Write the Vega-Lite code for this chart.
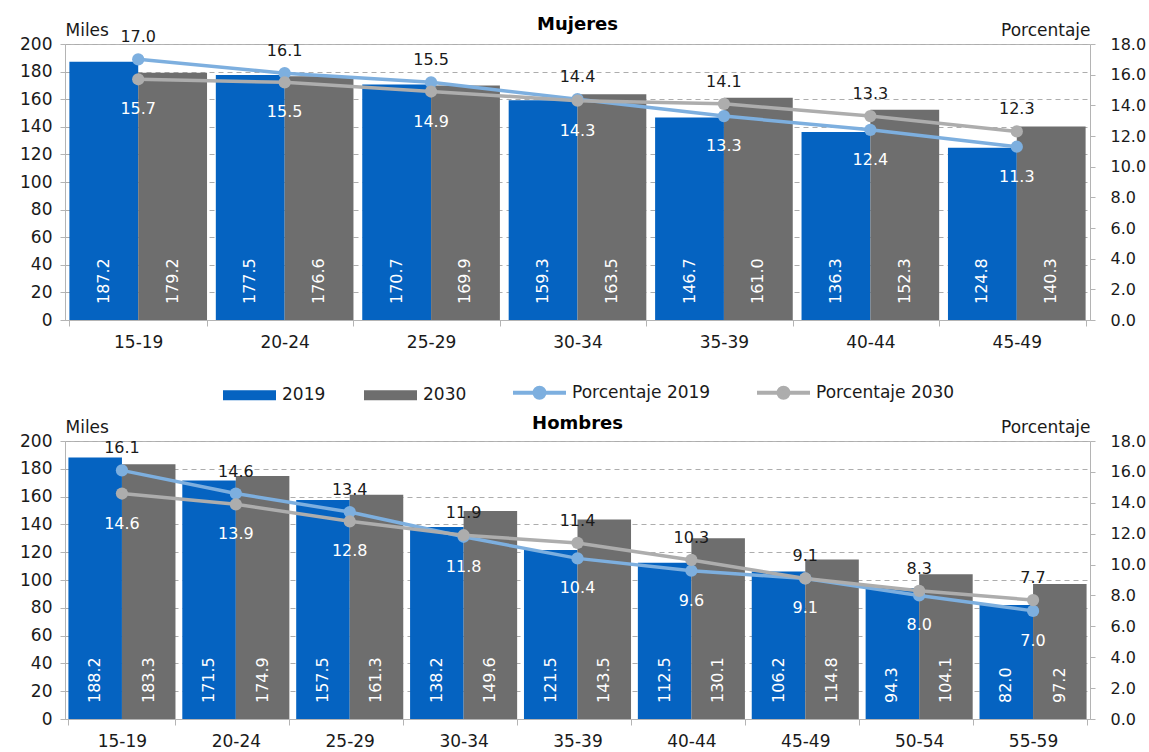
{
  "$schema": "https://vega.github.io/schema/vega-lite/v6.json",
  "background": "white",
  "padding": {"left": 19, "top": 15, "right": 0, "bottom": 0},
  "config": {
    "font": "DejaVu Sans",
    "view": {"stroke": "#B4B4B4", "strokeWidth": 1},
    "axis": {"labelFontSize": 17, "labelColor": "#1a1a1a", "titleFontSize": 17, "titleFontWeight": "normal", "titleColor": "#1a1a1a", "domainColor": "#B4B4B4", "tickColor": "#B4B4B4", "gridColor": "#ADADAD", "gridDash": [5, 4]},
    "title": {"fontSize": 18, "fontWeight": "bold", "color": "#000000"}
  },
  "datasets": {
    "barras": [
      {"sexo": "Mujeres", "grupo": "15-19", "serie": "2019", "valor": 187.2},
      {"sexo": "Mujeres", "grupo": "15-19", "serie": "2030", "valor": 179.2},
      {"sexo": "Mujeres", "grupo": "20-24", "serie": "2019", "valor": 177.5},
      {"sexo": "Mujeres", "grupo": "20-24", "serie": "2030", "valor": 176.6},
      {"sexo": "Mujeres", "grupo": "25-29", "serie": "2019", "valor": 170.7},
      {"sexo": "Mujeres", "grupo": "25-29", "serie": "2030", "valor": 169.9},
      {"sexo": "Mujeres", "grupo": "30-34", "serie": "2019", "valor": 159.3},
      {"sexo": "Mujeres", "grupo": "30-34", "serie": "2030", "valor": 163.5},
      {"sexo": "Mujeres", "grupo": "35-39", "serie": "2019", "valor": 146.7},
      {"sexo": "Mujeres", "grupo": "35-39", "serie": "2030", "valor": 161.0},
      {"sexo": "Mujeres", "grupo": "40-44", "serie": "2019", "valor": 136.3},
      {"sexo": "Mujeres", "grupo": "40-44", "serie": "2030", "valor": 152.3},
      {"sexo": "Mujeres", "grupo": "45-49", "serie": "2019", "valor": 124.8},
      {"sexo": "Mujeres", "grupo": "45-49", "serie": "2030", "valor": 140.3},
      {"sexo": "Hombres", "grupo": "15-19", "serie": "2019", "valor": 188.2},
      {"sexo": "Hombres", "grupo": "15-19", "serie": "2030", "valor": 183.3},
      {"sexo": "Hombres", "grupo": "20-24", "serie": "2019", "valor": 171.5},
      {"sexo": "Hombres", "grupo": "20-24", "serie": "2030", "valor": 174.9},
      {"sexo": "Hombres", "grupo": "25-29", "serie": "2019", "valor": 157.5},
      {"sexo": "Hombres", "grupo": "25-29", "serie": "2030", "valor": 161.3},
      {"sexo": "Hombres", "grupo": "30-34", "serie": "2019", "valor": 138.2},
      {"sexo": "Hombres", "grupo": "30-34", "serie": "2030", "valor": 149.6},
      {"sexo": "Hombres", "grupo": "35-39", "serie": "2019", "valor": 121.5},
      {"sexo": "Hombres", "grupo": "35-39", "serie": "2030", "valor": 143.5},
      {"sexo": "Hombres", "grupo": "40-44", "serie": "2019", "valor": 112.5},
      {"sexo": "Hombres", "grupo": "40-44", "serie": "2030", "valor": 130.1},
      {"sexo": "Hombres", "grupo": "45-49", "serie": "2019", "valor": 106.2},
      {"sexo": "Hombres", "grupo": "45-49", "serie": "2030", "valor": 114.8},
      {"sexo": "Hombres", "grupo": "50-54", "serie": "2019", "valor": 94.3},
      {"sexo": "Hombres", "grupo": "50-54", "serie": "2030", "valor": 104.1},
      {"sexo": "Hombres", "grupo": "55-59", "serie": "2019", "valor": 82.0},
      {"sexo": "Hombres", "grupo": "55-59", "serie": "2030", "valor": 97.2}
    ],
    "pct": [
      {"sexo": "Mujeres", "grupo": "15-19", "serie": "Porcentaje 2019", "valor": 17.0},
      {"sexo": "Mujeres", "grupo": "15-19", "serie": "Porcentaje 2030", "valor": 15.7},
      {"sexo": "Mujeres", "grupo": "20-24", "serie": "Porcentaje 2019", "valor": 16.1},
      {"sexo": "Mujeres", "grupo": "20-24", "serie": "Porcentaje 2030", "valor": 15.5},
      {"sexo": "Mujeres", "grupo": "25-29", "serie": "Porcentaje 2019", "valor": 15.5},
      {"sexo": "Mujeres", "grupo": "25-29", "serie": "Porcentaje 2030", "valor": 14.9},
      {"sexo": "Mujeres", "grupo": "30-34", "serie": "Porcentaje 2019", "valor": 14.4},
      {"sexo": "Mujeres", "grupo": "30-34", "serie": "Porcentaje 2030", "valor": 14.3},
      {"sexo": "Mujeres", "grupo": "35-39", "serie": "Porcentaje 2019", "valor": 13.3},
      {"sexo": "Mujeres", "grupo": "35-39", "serie": "Porcentaje 2030", "valor": 14.1},
      {"sexo": "Mujeres", "grupo": "40-44", "serie": "Porcentaje 2019", "valor": 12.4},
      {"sexo": "Mujeres", "grupo": "40-44", "serie": "Porcentaje 2030", "valor": 13.3},
      {"sexo": "Mujeres", "grupo": "45-49", "serie": "Porcentaje 2019", "valor": 11.3},
      {"sexo": "Mujeres", "grupo": "45-49", "serie": "Porcentaje 2030", "valor": 12.3},
      {"sexo": "Hombres", "grupo": "15-19", "serie": "Porcentaje 2019", "valor": 16.1},
      {"sexo": "Hombres", "grupo": "15-19", "serie": "Porcentaje 2030", "valor": 14.6},
      {"sexo": "Hombres", "grupo": "20-24", "serie": "Porcentaje 2019", "valor": 14.6},
      {"sexo": "Hombres", "grupo": "20-24", "serie": "Porcentaje 2030", "valor": 13.9},
      {"sexo": "Hombres", "grupo": "25-29", "serie": "Porcentaje 2019", "valor": 13.4},
      {"sexo": "Hombres", "grupo": "25-29", "serie": "Porcentaje 2030", "valor": 12.8},
      {"sexo": "Hombres", "grupo": "30-34", "serie": "Porcentaje 2019", "valor": 11.8},
      {"sexo": "Hombres", "grupo": "30-34", "serie": "Porcentaje 2030", "valor": 11.9},
      {"sexo": "Hombres", "grupo": "35-39", "serie": "Porcentaje 2019", "valor": 10.4},
      {"sexo": "Hombres", "grupo": "35-39", "serie": "Porcentaje 2030", "valor": 11.4},
      {"sexo": "Hombres", "grupo": "40-44", "serie": "Porcentaje 2019", "valor": 9.6},
      {"sexo": "Hombres", "grupo": "40-44", "serie": "Porcentaje 2030", "valor": 10.3},
      {"sexo": "Hombres", "grupo": "45-49", "serie": "Porcentaje 2019", "valor": 9.1},
      {"sexo": "Hombres", "grupo": "45-49", "serie": "Porcentaje 2030", "valor": 9.1},
      {"sexo": "Hombres", "grupo": "50-54", "serie": "Porcentaje 2019", "valor": 8.0},
      {"sexo": "Hombres", "grupo": "50-54", "serie": "Porcentaje 2030", "valor": 8.3},
      {"sexo": "Hombres", "grupo": "55-59", "serie": "Porcentaje 2019", "valor": 7.0},
      {"sexo": "Hombres", "grupo": "55-59", "serie": "Porcentaje 2030", "valor": 7.7}
    ]
  },
  "spacing": 63,
  "resolve": {"scale": {"xOffset": "independent"}},
  "vconcat": [
    {
      "width": 1025,
      "height": 276,
      "title": {"text": "Mujeres", "offset": -22, "baseline": "middle", "anchor": "middle", "frame": "group"},
      "encoding": {
        "x": {"field": "grupo", "type": "nominal", "sort": null, "scale": {"paddingInner": 0.06, "paddingOuter": 0.03},
              "axis": {"title": null, "labelAngle": 0, "tickBand": "extent", "tickSize": 6, "labelPadding": 8, "grid": false}}
      },
      "layer": [
        {
          "data": {"name": "barras"},
          "transform": [{"filter": "datum.sexo === 'Mujeres'"}],
          "encoding": {
            "xOffset": {"field": "serie", "type": "nominal", "sort": ["2019", "2030"]},
            "y": {"field": "valor", "type": "quantitative", "scale": {"domain": [0, 200]},
                  "axis": {"title": "Miles", "titleAngle": 0, "titleAlign": "left", "titleX": 0, "titleY": -14, "titleBaseline": "middle",
                           "values": [0, 20, 40, 60, 80, 100, 120, 140, 160, 180, 200], "grid": true, "tickSize": 5, "labelPadding": 8, "domain": false}}
          },
          "layer": [
            {
              "mark": {"type": "bar"},
              "encoding": {
                "color": {"field": "serie", "type": "nominal",
                  "scale": {"domain": ["2019", "2030", "Porcentaje 2019", "Porcentaje 2030"], "range": ["#0563C1", "#6E6E6E", "#7DAFDF", "#ADADAD"]},
                  "legend": {"orient": "none", "direction": "horizontal", "legendX": 176, "legendY": 340, "title": null,
                    "labelFontSize": 17, "labelColor": "#1a1a1a", "symbolSize": 2809, "columnPadding": 38, "labelOffset": 24,
                    "encode": {"symbols": {"update": {
                      "shape": {"signal": "test(/Porcentaje/, datum.value) ? 'M-1,0H1M-0.19,0A0.19,0.19 0 1,0 0.19,0A0.19,0.19 0 1,0 -0.19,0' : 'M-1,-0.19H1V0.19H-1Z'"},
                      "fill": {"scale": "color", "field": "value"},
                      "stroke": {"scale": "color", "field": "value"},
                      "strokeWidth": {"signal": "test(/Porcentaje/, datum.value) ? 4 : 0"},
                      "opacity": {"value": 1}
                    }}}
                  }
                }
              }
            },
            {
              "mark": {"type": "text", "angle": 270, "align": "left", "baseline": "middle", "dx": 16, "color": "white", "fontSize": 16},
              "encoding": {"y": {"datum": 0}, "text": {"field": "valor", "type": "quantitative", "format": ".1f"}}
            }
          ]
        },
        {
          "data": {"name": "pct"},
          "transform": [
            {"filter": "datum.sexo === 'Mujeres'"},
            {"window": [{"op": "row_number", "as": "rk"}], "sort": [{"field": "valor", "order": "descending"}], "groupby": ["grupo"]}
          ],
          "encoding": {
            "y": {"field": "valor", "type": "quantitative", "scale": {"domain": [0, 18]},
                  "axis": {"orient": "right", "title": "Porcentaje", "titleAngle": 0, "titleAlign": "right", "titleX": 0, "titleY": -14, "titleBaseline": "middle",
                           "values": [0, 2, 4, 6, 8, 10, 12, 14, 16, 18], "format": ".1f", "grid": false, "tickSize": 5, "labelPadding": 15, "labelFontSize": 16, "domain": false}}
          },
          "layer": [
            {"mark": {"type": "line", "strokeWidth": 3.5}, "encoding": {"color": {"field": "serie", "type": "nominal"}}},
            {"mark": {"type": "point", "filled": true, "size": 150, "opacity": 1}, "encoding": {"color": {"field": "serie", "type": "nominal"}}},
            {"transform": [{"filter": "datum.rk === 1"}], "mark": {"type": "text", "dy": -22, "fontSize": 16, "color": "#1a1a1a"}, "encoding": {"text": {"field": "valor", "type": "quantitative", "format": ".1f"}}},
            {"transform": [{"filter": "datum.rk === 2"}], "mark": {"type": "text", "dy": 30, "fontSize": 16, "color": "white"}, "encoding": {"text": {"field": "valor", "type": "quantitative", "format": ".1f"}}}
          ]
        }
      ],
      "resolve": {"scale": {"y": "independent"}}
    },
    {
      "width": 1025,
      "height": 278,
      "title": {"text": "Hombres", "offset": -24, "baseline": "middle", "anchor": "middle", "frame": "group"},
      "encoding": {
        "x": {"field": "grupo", "type": "nominal", "sort": null, "scale": {"paddingInner": 0.06, "paddingOuter": 0.03},
              "axis": {"title": null, "labelAngle": 0, "tickBand": "extent", "tickSize": 6, "labelPadding": 8, "grid": false}}
      },
      "layer": [
        {
          "data": {"name": "barras"},
          "transform": [{"filter": "datum.sexo === 'Hombres'"}],
          "encoding": {
            "xOffset": {"field": "serie", "type": "nominal", "sort": ["2019", "2030"]},
            "y": {"field": "valor", "type": "quantitative", "scale": {"domain": [0, 200]},
                  "axis": {"title": "Miles", "titleAngle": 0, "titleAlign": "left", "titleX": 0, "titleY": -14, "titleBaseline": "middle",
                           "values": [0, 20, 40, 60, 80, 100, 120, 140, 160, 180, 200], "grid": true, "tickSize": 5, "labelPadding": 8, "domain": false}}
          },
          "layer": [
            {"mark": {"type": "bar"}, "encoding": {"color": {"field": "serie", "type": "nominal"}}},
            {
              "mark": {"type": "text", "angle": 270, "align": "left", "baseline": "middle", "dx": 16, "color": "white", "fontSize": 16},
              "encoding": {"y": {"datum": 0}, "text": {"field": "valor", "type": "quantitative", "format": ".1f"}}
            }
          ]
        },
        {
          "data": {"name": "pct"},
          "transform": [
            {"filter": "datum.sexo === 'Hombres'"},
            {"window": [{"op": "row_number", "as": "rk"}], "sort": [{"field": "valor", "order": "descending"}], "groupby": ["grupo"]}
          ],
          "encoding": {
            "y": {"field": "valor", "type": "quantitative", "scale": {"domain": [0, 18]},
                  "axis": {"orient": "right", "title": "Porcentaje", "titleAngle": 0, "titleAlign": "right", "titleX": 0, "titleY": -14, "titleBaseline": "middle",
                           "values": [0, 2, 4, 6, 8, 10, 12, 14, 16, 18], "format": ".1f", "grid": false, "tickSize": 5, "labelPadding": 15, "labelFontSize": 16, "domain": false}}
          },
          "layer": [
            {"mark": {"type": "line", "strokeWidth": 3.5}, "encoding": {"color": {"field": "serie", "type": "nominal"}}},
            {"mark": {"type": "point", "filled": true, "size": 150, "opacity": 1}, "encoding": {"color": {"field": "serie", "type": "nominal"}}},
            {"transform": [{"filter": "datum.rk === 1"}], "mark": {"type": "text", "dy": -22, "fontSize": 16, "color": "#1a1a1a"}, "encoding": {"text": {"field": "valor", "type": "quantitative", "format": ".1f"}}},
            {"transform": [{"filter": "datum.rk === 2"}], "mark": {"type": "text", "dy": 30, "fontSize": 16, "color": "white"}, "encoding": {"text": {"field": "valor", "type": "quantitative", "format": ".1f"}}}
          ]
        }
      ],
      "resolve": {"scale": {"y": "independent"}}
    }
  ]
}
